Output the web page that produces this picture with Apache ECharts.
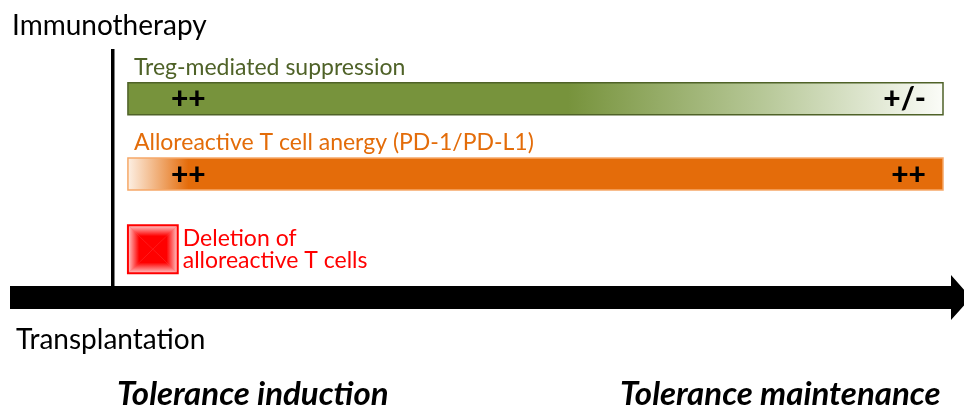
<!DOCTYPE html>
<html>
<head>
<meta charset="utf-8">
<script src="https://cdn.jsdelivr.net/npm/echarts@6/dist/echarts.min.js"></script>
<style>
  html, body { margin: 0; padding: 0; background: #fff; }
  #chart { width: 964px; height: 405px; }
</style>
</head>
<body>
<div id="chart"></div>
<script>
// mechanisms along the post-transplant timeline (0 = transplantation, 100 = end of arrow)
const processes = ['Treg-mediated suppression', 'Alloreactive T cell anergy (PD-1/PD-L1)', 'Deletion of\nalloreactive T cells']
const startTimes = [1.8, 1.8, 1.8]
const endTimes = [100, 100, 7.8]
const earlyStrength = ['++', '++', '']
const lateStrength = ['+/-', '++', '']
const phases = ['Tolerance induction', 'Tolerance maintenance']

const FONT = 'Lato, "Open Sans", sans-serif'

const seriesData = []
for (let i = 0; i < processes.length; i++) {
  seriesData.push([i, startTimes[i], endTimes[i]])
}

function barFill(i) {
  if (i === 0) {
    return new echarts.graphic.LinearGradient(0, 0, 1, 0, [
      { offset: 0, color: '#77933c' },
      { offset: 0.54, color: '#77933c' },
      { offset: 0.78, color: '#b7c898' },
      { offset: 1, color: '#fbfcf8' }
    ])
  }
  return new echarts.graphic.LinearGradient(0, 0, 1, 0, [
    { offset: 0, color: '#fdf1e6' },
    { offset: 0.075, color: '#e46c0a' },
    { offset: 1, color: '#e46c0a' }
  ])
}

// square shaded from the rim toward a solid red centre (four triangles)
function squareFaces(x, y, w, h) {
  const cx = x + w / 2
  const cy = y + h / 2
  const stops = [
    { offset: 0, color: '#ffcaca' },
    { offset: 0.45, color: '#ff0000' },
    { offset: 1, color: '#ff0000' }
  ]
  const faces = [
    { pts: [[x, y], [x + w, y], [cx, cy]], g: [0, 0, 0, 1] },
    { pts: [[x, y + h], [x + w, y + h], [cx, cy]], g: [0, 1, 0, 0] },
    { pts: [[x, y], [x, y + h], [cx, cy]], g: [0, 0, 1, 0] },
    { pts: [[x + w, y], [x + w, y + h], [cx, cy]], g: [1, 0, 0, 0] }
  ]
  const out = [{
    type: 'rect',
    shape: { x: x, y: y, width: w, height: h },
    style: { fill: '#ff6a6a' }
  }]
  faces.forEach(function (f) {
    out.push({
      type: 'polygon',
      shape: { points: f.pts },
      style: {
        fill: new echarts.graphic.LinearGradient(f.g[0], f.g[1], f.g[2], f.g[3], stops)
      }
    })
  })
  return out
}

function renderItem(params, api) {
  const i = api.value(0)
  const start = api.coord([api.value(1), i])
  const end = api.coord([api.value(2), i])
  const cy = start[1]
  const w = end[0] - start[0]

  if (i === 2) {
    // deletion: small square with label on its right
    const children = squareFaces(start[0], cy - 24, w, 48)
    children.push({
      type: 'rect',
      shape: { x: start[0], y: cy - 24, width: w, height: 48 },
      style: { fill: null, stroke: '#ff0000', lineWidth: 2 }
    })
    children.push({
      type: 'text',
      style: {
        text: processes[i],
        x: end[0] + 5,
        y: cy,
        fill: '#ff0000',
        font: '23px ' + FONT,
        lineHeight: 22,
        align: 'left',
        verticalAlign: 'middle'
      }
    })
    return { type: 'group', children: children }
  }

  const labelColor = i === 0 ? '#4f6228' : '#e36c09'
  return {
    type: 'group',
    children: [
      {
        type: 'rect',
        shape: { x: start[0], y: cy - 16, width: w, height: 32 },
        style: {
          fill: barFill(i),
          stroke: i === 0 ? '#4f6228' : '#f6a868',
          lineWidth: 1.5
        }
      },
      {
        type: 'text',
        style: {
          text: processes[i],
          x: start[0] + 6,
          y: cy - 20,
          fill: labelColor,
          font: '23px ' + FONT,
          align: 'left',
          verticalAlign: 'bottom'
        }
      },
      {
        type: 'text',
        style: {
          text: earlyStrength[i],
          x: start[0] + 43,
          y: cy + 1,
          fill: '#000',
          font: '900 30px ' + FONT,
          align: 'left',
          verticalAlign: 'middle'
        }
      },
      {
        type: 'text',
        style: {
          text: lateStrength[i],
          x: end[0] - 17,
          y: cy + 1,
          fill: '#000',
          font: '900 30px ' + FONT,
          align: 'right',
          verticalAlign: 'middle'
        }
      }
    ]
  }
}

var myChart = echarts.init(document.getElementById('chart'))
myChart.setOption({
  animation: false,
  grid: { left: 113, right: 21, top: 61, bottom: 118 },
  xAxis: {
    type: 'value',
    min: 0,
    max: 100,
    show: false
  },
  yAxis: {
    type: 'category',
    data: processes,
    inverse: true,
    show: false
  },
  graphic: [
    // transplantation marker
    {
      type: 'rect',
      shape: { x: 111, y: 49, width: 3.5, height: 240 },
      style: { fill: '#000' }
    },
    // time arrow
    {
      type: 'polygon',
      shape: {
        points: [[10, 286], [951, 286], [951, 275], [971, 297.5], [951, 320], [951, 309], [10, 309]]
      },
      style: { fill: '#000' }
    },
    {
      type: 'text',
      left: 12,
      top: 12,
      style: { text: 'Immunotherapy', fill: '#000', font: '28px ' + FONT }
    },
    {
      type: 'text',
      left: 16,
      top: 326,
      style: { text: 'Transplantation', fill: '#000', font: '28px ' + FONT }
    },
    {
      type: 'text',
      left: 117,
      top: 378,
      style: { text: phases[0], fill: '#000', font: 'italic bold 33px ' + FONT }
    },
    {
      type: 'text',
      left: 620,
      top: 378,
      style: { text: phases[1], fill: '#000', font: 'italic bold 33px ' + FONT }
    }
  ],
  series: [
    {
      type: 'custom',
      renderItem: renderItem,
      encode: { x: [1, 2], y: 0 },
      data: seriesData,
      clip: false
    }
  ]
})
</script>
</body>
</html>
